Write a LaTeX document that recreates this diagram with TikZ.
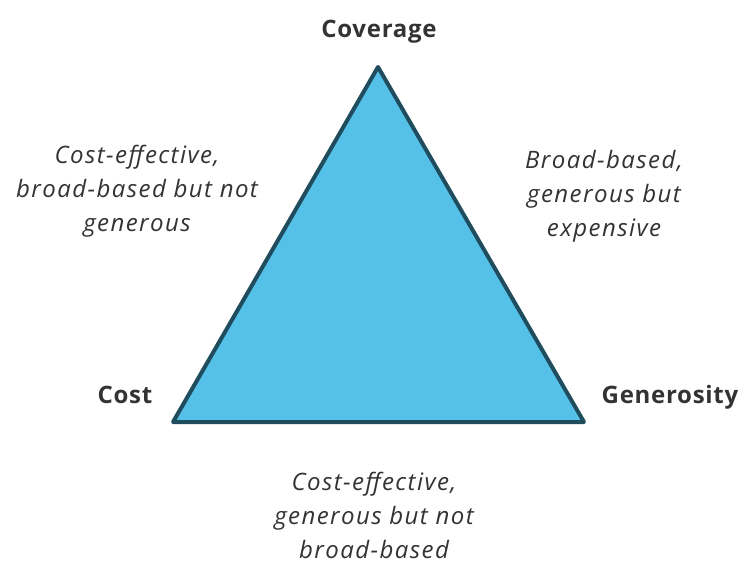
\documentclass[tikz,border=0pt]{standalone}
\usepackage{fontspec}
\setmainfont{Open Sans}
\setsansfont{Open Sans}
\newfontfamily\cornerfont[LetterSpace=3]{Open Sans}
\newfontfamily\tradefont[LetterSpace=6]{Open Sans}
\definecolor{trifill}{HTML}{56C1E8}
\definecolor{triedge}{HTML}{1F4D5E}
\definecolor{txtgray}{HTML}{333333}

\begin{document}
\begin{tikzpicture}[
    x=0.75pt, y=-0.75pt,
    every node/.style={font=\sffamily, text=txtgray},
    corner/.style={font=\cornerfont\bfseries\fontsize{18}{21}\selectfont},
    tradeoff/.style={font=\tradefont\itshape\fontsize{18}{25.5}\selectfont, align=center},
]
\useasboundingbox (0,0) rectangle (746,564);

% === Triangle ===
\coordinate (top) at (378,67);
\coordinate (left) at (173,422);
\coordinate (right) at (584,422);
\draw[line width=3pt, triedge, fill=trifill, line join=round] (top) -- (left) -- (right) -- cycle;

% === Corner labels ===
\node[corner] (cov) at (379,32) {Coverage};
\node[corner] (cost) at (125,395) {Cost};
\node[corner] (gen) at (670,397) {Generosity};

% === Trade-offs along each side ===
\node[tradeoff] (covcost) at (137,191) {Cost-effective,\\broad-based but not\\generous};
\node[tradeoff] (covgen) at (604,196) {Broad-based,\\generous but\\expensive};
\node[tradeoff] (costgen) at (374,515) {Cost-effective,\\generous but not\\broad-based};

\end{tikzpicture}
\end{document}
